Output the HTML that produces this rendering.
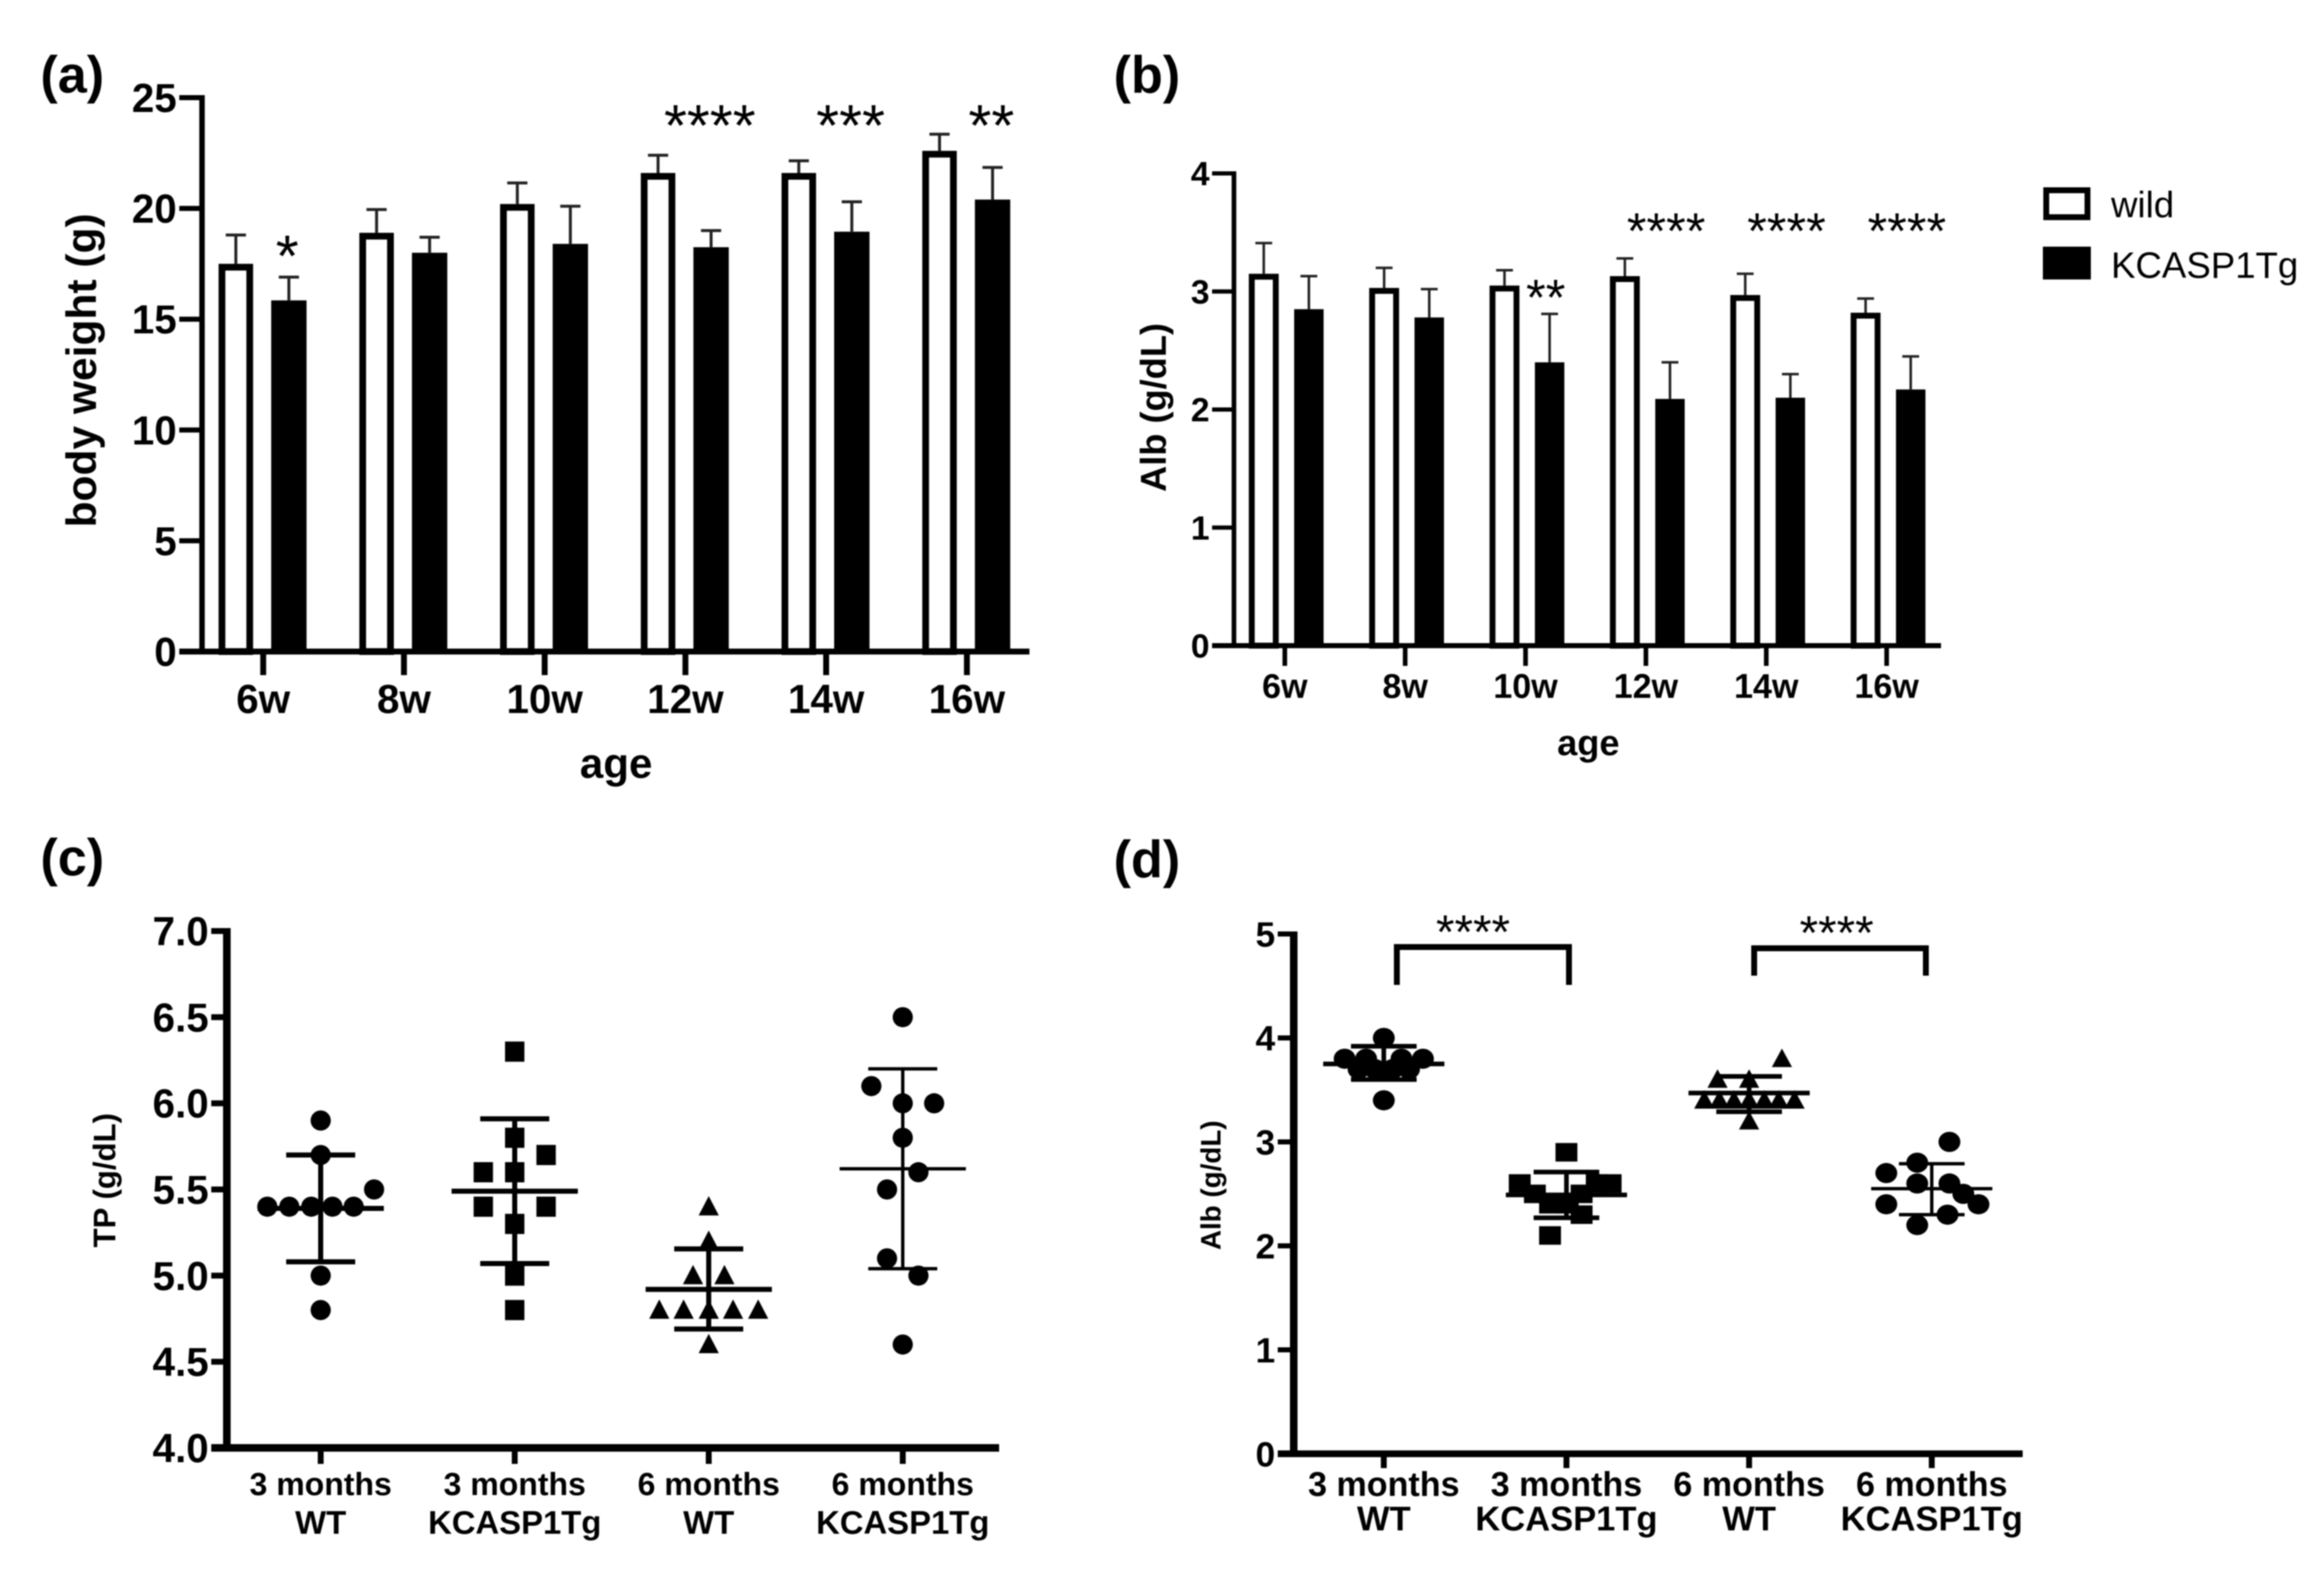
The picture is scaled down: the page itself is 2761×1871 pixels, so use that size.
<!DOCTYPE html>
<html lang="en">
<head>
<meta charset="utf-8">
<title>Body weight, albumin and total protein in wild and KCASP1Tg mice</title>
<style>
html,body{margin:0;padding:0;background:#fff;}
svg{display:block;filter:blur(0.7px);}
text{font-family:"Liberation Sans",sans-serif;fill:#000;}
.b{font-weight:bold;}
</style>
</head>
<body>
<svg id="fig" xmlns="http://www.w3.org/2000/svg" width="2761" height="1871" viewBox="0 0 2761 1871">
<rect x="0" y="0" width="2761" height="1871" fill="#fff"/>
<text class="b" x="48" y="110" font-size="62">(a)</text>
<text class="b" x="1323" y="110" font-size="62">(b)</text>
<text class="b" x="48" y="1040" font-size="62">(c)</text>
<text class="b" x="1323" y="1042" font-size="62">(d)</text>
<rect x="2431" y="226" width="49" height="32" fill="#fff" stroke="#000" stroke-width="7"/>
<text x="2508" y="258" font-size="43.5">wild</text>
<rect x="2427" y="293" width="57" height="39" fill="#000"/>
<text x="2508" y="330" font-size="43.5">KCASP1Tg</text>
</svg>
<script>
// ---- Panel (a) data: body weight (g) ----
const ageCategories = ['6w', '8w', '10w', '12w', '14w', '16w'];
const aTicks = [0, 5, 10, 15, 20, 25];
const aWild = [17.5, 18.9, 20.2, 21.6, 21.6, 22.6];
const aWildErrTop = [18.8, 19.95, 21.15, 22.4, 22.15, 23.35];
const aTg = [15.85, 18.0, 18.4, 18.25, 18.95, 20.4];
const aTgErrTop = [16.9, 18.7, 20.1, 19.0, 20.3, 21.85];
const aStars = ['*', '', '', '****', '***', '**'];

// ---- Panel (b) data: Alb (g/dL) ----
const bTicks = [0, 1, 2, 3, 4];
const bWild = [3.15, 3.03, 3.05, 3.13, 2.97, 2.82];
const bWildErrTop = [3.41, 3.2, 3.18, 3.28, 3.15, 2.94];
const bTg = [2.85, 2.78, 2.4, 2.09, 2.1, 2.17];
const bTgErrTop = [3.13, 3.02, 2.81, 2.4, 2.3, 2.45];
const bStars = ['', '', '**', '****', '****', '****'];

// ---- Scatter categories ----
const groupLine1 = ['3 months', '3 months', '6 months', '6 months'];
const groupLine2 = ['WT', 'KCASP1Tg', 'WT', 'KCASP1Tg'];
const groupShapes = ['circle', 'square', 'triangle', 'circle'];

// ---- Panel (c) data: TP (g/dL) ----
const cTicks = [4.0, 4.5, 5.0, 5.5, 6.0, 6.5, 7.0];
const cValues3mWt = [5.9, 5.7, 5.5, 5.4, 5.4, 5.4, 5.4, 5.4, 5.0, 4.8];
const cSwarm3mWt = [0, 0, 3.4, -3.4, -2, -0.6, 0.75, 2.1, 0, 0];
const cValues3mTg = [6.3, 5.8, 5.7, 5.6, 5.6, 5.4, 5.4, 5.3, 5.0, 4.8];
const cSwarm3mTg = [0, 0, 2, -2, 0, -2, 2, 0, 0, 0];
const cValues6mWt = [5.4, 5.2, 5.0, 5.0, 4.8, 4.8, 4.8, 4.8, 4.8, 4.6];
const cSwarm6mWt = [0, 0, -1, 1, -3.15, -1.6, 0, 1.55, 3.15, 0];
const cValues6mTg = [6.5, 6.1, 6.0, 6.0, 5.8, 5.6, 5.5, 5.1, 5.0, 4.6];
const cSwarm6mTg = [0, -2, 0, 2, 0, 1, -1, -1, 1, 0];
const cMeans = [5.39, 5.49, 4.92, 5.62];
const cUpper = [5.7, 5.91, 5.155, 6.2];
const cLower = [5.08, 5.07, 4.69, 5.04];

// ---- Panel (d) data: Alb (g/dL) ----
const dTicks = [0, 1, 2, 3, 4, 5];
const dValues3mWt = [4.0, 3.8, 3.8, 3.8, 3.8, 3.7, 3.7, 3.7, 3.7, 3.4];
const dSwarm3mWt = [0, -3.1, -1.4, 1.4, 3.1, -2, -0.7, 0.7, 2, 0];
const dValues3mTg = [2.9, 2.6, 2.6, 2.6, 2.5, 2.5, 2.4, 2.4, 2.3, 2.1];
const dSwarm3mTg = [0, -3.7, 2.4, 3.5, -2.5, 1.2, -1.3, 0.1, 1.2, -1.3];
const dValues6mWt = [3.8, 3.6, 3.6, 3.4, 3.4, 3.4, 3.4, 3.4, 3.4, 3.4, 3.2];
const dSwarm6mWt = [2.6, -2.5, 0, -3.55, -2.35, -1.2, 0, 1.2, 2.35, 3.6, 0];
const dValues6mTg = [3.0, 2.8, 2.7, 2.6, 2.6, 2.5, 2.4, 2.4, 2.3, 2.2];
const dSwarm6mTg = [1.4, -1.15, -3.6, -1.15, 1.4, 2.5, 3.7, -3.6, 1.25, -1.15];
const dMeans = [3.75, 2.49, 3.47, 2.55];
const dUpper = [3.92, 2.71, 3.63, 2.79];
const dLower = [3.6, 2.27, 3.29, 2.3];

const NS = 'http://www.w3.org/2000/svg';
const fig = document.getElementById('fig');

function mk(parent, tag, attrs, name) {
  const el = document.createElementNS(NS, tag);
  for (const k in attrs) el.setAttribute(k, attrs[k]);
  
  
  parent.appendChild(el);
  return el;
}
function rect(p, x, y, w, h, name, fill) {
  return mk(p, 'rect', {x: x, y: y, width: w, height: h, fill: fill || '#000'}, name);
}
function label(p, str, x, y, size, anchor, bold, name, rotate) {
  const a = {x: x, y: y, 'font-size': size, 'text-anchor': anchor};
  if (bold) a['class'] = 'b';
  if (rotate) a.transform = 'rotate(-90 ' + x + ' ' + y + ')';
  const t = mk(p, 'text', a, name);
  t.textContent = str;
  return t;
}
function linearScale(v0, p0, v1, p1) {
  return function (v) { return p0 + (v - v0) * (p1 - p0) / (v1 - v0); };
}

function drawAxes(g, o) {
  const xs = o.xTicks, y = o.y;
  rect(g, o.axisX - o.axisW / 2, y(o.ticks[o.ticks.length - 1]) - o.tickW / 2, o.axisW, y(o.ticks[0]) - y(o.ticks[o.ticks.length - 1]) + o.tickW, 'y-axis-line');
  rect(g, o.axisLeft, y(o.ticks[0]) - o.baseW / 2, o.axisRight - o.axisLeft, o.baseW, 'x-axis-line');
  o.ticks.forEach(function (t) {
    rect(g, o.axisLeft, y(t) - o.tickW / 2, o.axisX - o.axisLeft, o.tickW, 'y-tick-mark');
    label(g, o.fmt(t), o.axisLeft - 3, y(t) + o.tickFont * 0.355, o.tickFont, 'end', true, 'y-tick-label');
  });
  xs.forEach(function (x) {
    rect(g, x - o.xTickW / 2, y(o.ticks[0]), o.xTickW, o.xTickBottom - y(o.ticks[0]), 'x-tick-mark');
  });
}

function drawBars(g, o) {
  const y = o.y, base = y(0);
  o.categories.forEach(function (cat, i) {
    const c = o.xTicks[i];
    const wx = c + o.wildOff, tx = c + o.tgOff;
    // error bars
    rect(g, wx - o.errW / 2, y(o.wildErr[i]), o.errW, y(o.wild[i]) - y(o.wildErr[i]), 'error-stem-wild-' + cat, '#222');
    rect(g, wx - o.capHalf, y(o.wildErr[i]) - o.errW / 2, o.capHalf * 2, o.errW, 'error-cap-wild-' + cat, '#222');
    rect(g, tx - o.errW / 2, y(o.tgErr[i]), o.errW, y(o.tg[i]) - y(o.tgErr[i]), 'error-stem-kcasp1tg-' + cat, '#222');
    rect(g, tx - o.capHalf, y(o.tgErr[i]) - o.errW / 2, o.capHalf * 2, o.errW, 'error-cap-kcasp1tg-' + cat, '#222');
    // bars
    const s = o.barStroke;
    mk(g, 'rect', {x: wx - o.wildW / 2 + s / 2, y: y(o.wild[i]) + s / 2, width: o.wildW - s, height: base - y(o.wild[i]) - s / 2, fill: '#fff', stroke: '#000', 'stroke-width': s}, 'bar-wild-' + cat);
    rect(g, tx - o.tgW / 2, y(o.tg[i]), o.tgW, base - y(o.tg[i]), 'bar-kcasp1tg-' + cat);
    label(g, cat, c, o.catBase, o.catFont, 'middle', true, 'x-tick-label-' + cat);
    if (o.stars[i]) {
      const single = o.stars[i].length === 1;
      const sx = single ? tx - 2 : c + o.starOff;
      const sy = o.stars[i].length === 2 && o.panel === 'b' ? o.starY2 : (single ? o.starY1 : o.starY);
      label(g, o.stars[i], sx, sy + o.starFont * 0.5, o.starFont, 'middle', false, 'significance-stars-' + cat);
    }
  });
}

function marker(g, shape, x, y, s, name) {
  if (shape === 'circle') {
    mk(g, 'ellipse', {cx: x, cy: y, rx: s.rx, ry: s.ry, fill: '#000'}, name);
  } else if (shape === 'square') {
    rect(g, x - s.sqW / 2, y - s.sqH / 2, s.sqW, s.sqH, name);
  } else {
    mk(g, 'polygon', {points: (x) + ',' + (y - s.triH * 0.55) + ' ' + (x + s.triW / 2) + ',' + (y + s.triH * 0.45) + ' ' + (x - s.triW / 2) + ',' + (y + s.triH * 0.45), fill: '#000'}, name);
  }
}

function drawScatter(g, o) {
  const y = o.y;
  o.groups.forEach(function (grp, i) {
    const c = o.xTicks[i];
    grp.values.forEach(function (v, k) {
      marker(g, groupShapes[i], c + grp.swarm[k] * o.slot, y(v), o.size, 'point-group-' + (i + 1));
    });
    const lw = o.lineW[i];
    rect(g, c - o.meanHalf, y(o.means[i]) - lw / 2, o.meanHalf * 2, lw, 'mean-line-group-' + (i + 1));
    rect(g, c - o.capHalf, y(o.upper[i]) - lw / 2, o.capHalf * 2, lw, 'upper-sd-cap-group-' + (i + 1));
    rect(g, c - o.capHalf, y(o.lower[i]) - lw / 2, o.capHalf * 2, lw, 'lower-sd-cap-group-' + (i + 1));
    rect(g, c - lw / 2, y(o.upper[i]), lw, y(o.lower[i]) - y(o.upper[i]), 'sd-stem-group-' + (i + 1));
    label(g, groupLine1[i], c, o.line1Y, o.line1Font, 'middle', true, 'x-tick-label-line1');
    label(g, groupLine2[i], c, o.line2Y, o.line2Font, 'middle', true, 'x-tick-label-line2');
  });
}

function tickPositions(first, step, n) {
  const out = [];
  for (let i = 0; i < n; i++) out.push(first + step * i);
  return out;
}

// ---- Panel a ----
(function () {
  const g = mk(fig, 'g', {}, 'panel-a-body-weight');
  const y = linearScale(0, 774, 25, 116);
  const xTicks = tickPositions(312.7, 167.2, ageCategories.length);
  drawBars(g, {panel: 'a', categories: ageCategories, xTicks: xTicks, y: y, wild: aWild, wildErr: aWildErrTop, tg: aTg, tgErr: aTgErrTop, stars: aStars,
    wildOff: -32.5, tgOff: 30.5, wildW: 41, tgW: 42, barStroke: 8, errW: 3.5, capHalf: 12, catBase: 847, catFont: 48,
    starFont: 70, starOff: 29, starY: 138, starY1: 293, starY2: 138});
  drawAxes(g, {ticks: aTicks, xTicks: xTicks, y: y, axisX: 240, axisW: 6.5, tickW: 6, baseW: 7, axisLeft: 213, axisRight: 1223, xTickW: 7, xTickBottom: 802, tickFont: 48, fmt: String});
  label(g, 'body weight (g)', 114, 440, 50.5, 'middle', true, 'y-axis-title', true);
  label(g, 'age', 732, 924, 50, 'middle', true, 'x-axis-title');
})();

// ---- Panel b ----
(function () {
  const g = mk(fig, 'g', {}, 'panel-b-albumin-by-age');
  const y = linearScale(0, 767, 4, 206);
  const xTicks = tickPositions(1526.4, 143, ageCategories.length);
  drawBars(g, {panel: 'b', categories: ageCategories, xTicks: xTicks, y: y, wild: bWild, wildErr: bWildErrTop, tg: bTg, tgErr: bTgErrTop, stars: bStars,
    wildOff: -25, tgOff: 28.6, wildW: 35.5, tgW: 35, barStroke: 7, errW: 3, capHalf: 10, catBase: 829, catFont: 40.5,
    starFont: 60, starOff: 24, starY: 265, starY1: 265, starY2: 344});
  drawAxes(g, {ticks: bTicks, xTicks: xTicks, y: y, axisX: 1466, axisW: 5.5, tickW: 5, baseW: 6, axisLeft: 1440, axisRight: 2306, xTickW: 5.5, xTickBottom: 791, tickFont: 40, fmt: String});
  label(g, 'Alb (g/dL)', 1385, 484, 43, 'middle', true, 'y-axis-title', true);
  label(g, 'age', 1887, 897, 43, 'middle', true, 'x-axis-title');
})();

// ---- Panel c ----
(function () {
  const g = mk(fig, 'g', {}, 'panel-c-total-protein');
  const y = linearScale(4, 1720, 7, 1106);
  const xTicks = tickPositions(381, 230.5, groupLine1.length);
  drawScatter(g, {y: y, xTicks: xTicks, slot: 18.65,
    groups: [{values: cValues3mWt, swarm: cSwarm3mWt}, {values: cValues3mTg, swarm: cSwarm3mTg}, {values: cValues6mWt, swarm: cSwarm6mWt}, {values: cValues6mTg, swarm: cSwarm6mTg}],
    means: cMeans, upper: cUpper, lower: cLower, meanHalf: 75, capHalf: 41, lineW: [6, 6, 6, 4],
    size: {rx: 12, ry: 12, sqW: 23, sqH: 24, triW: 24, triH: 23},
    line1Y: 1776, line2Y: 1822, line1Font: 38, line2Font: 39});
  drawAxes(g, {ticks: cTicks, xTicks: xTicks, y: y, axisX: 269.5, axisW: 9, tickW: 7, baseW: 9, axisLeft: 251, axisRight: 1187, xTickW: 7, xTickBottom: 1739, tickFont: 48, fmt: function (v) { return v.toFixed(1); }});
  label(g, 'TP (g/dL)', 137, 1402, 37, 'middle', true, 'y-axis-title', true);
})();

// ---- Panel d ----
(function () {
  const g = mk(fig, 'g', {}, 'panel-d-albumin-by-group');
  const y = linearScale(0, 1727, 5, 1109.5);
  const xTicks = tickPositions(1644, 217, groupLine1.length);
  drawScatter(g, {y: y, xTicks: xTicks, slot: 15,
    groups: [{values: dValues3mWt, swarm: dSwarm3mWt}, {values: dValues3mTg, swarm: dSwarm3mTg}, {values: dValues6mWt, swarm: dSwarm6mWt}, {values: dValues6mTg, swarm: dSwarm6mTg}],
    means: dMeans, upper: dUpper, lower: dLower, meanHalf: 72, capHalf: 39, lineW: [5.5, 5.5, 5.5, 4],
    size: {rx: 13, ry: 12, sqW: 26, sqH: 22, triW: 24, triH: 22},
    line1Y: 1777, line2Y: 1818, line1Font: 40.5, line2Font: 41});
  drawAxes(g, {ticks: dTicks, xTicks: xTicks, y: y, axisX: 1537, axisW: 9, tickW: 6, baseW: 8, axisLeft: 1518, axisRight: 2403, xTickW: 7, xTickBottom: 1744, tickFont: 42, fmt: String});
  label(g, 'Alb (g/dL)', 1450, 1408, 33, 'middle', true, 'y-axis-title', true);
  mk(g, 'path', {d: 'M1659.5 1170V1125H1864V1170', fill: 'none', stroke: '#000', 'stroke-width': 7}, 'significance-bracket-3-months');
  mk(g, 'path', {d: 'M2084 1159V1126.5H2288V1159', fill: 'none', stroke: '#000', 'stroke-width': 7}, 'significance-bracket-6-months');
  label(g, '****', 1750, 1098 + 56.5 * 0.5, 56.5, 'middle', false, 'significance-stars-3-months');
  label(g, '****', 2182, 1099 + 56.5 * 0.5, 56.5, 'middle', false, 'significance-stars-6-months');
})();
</script>
</body>
</html>
